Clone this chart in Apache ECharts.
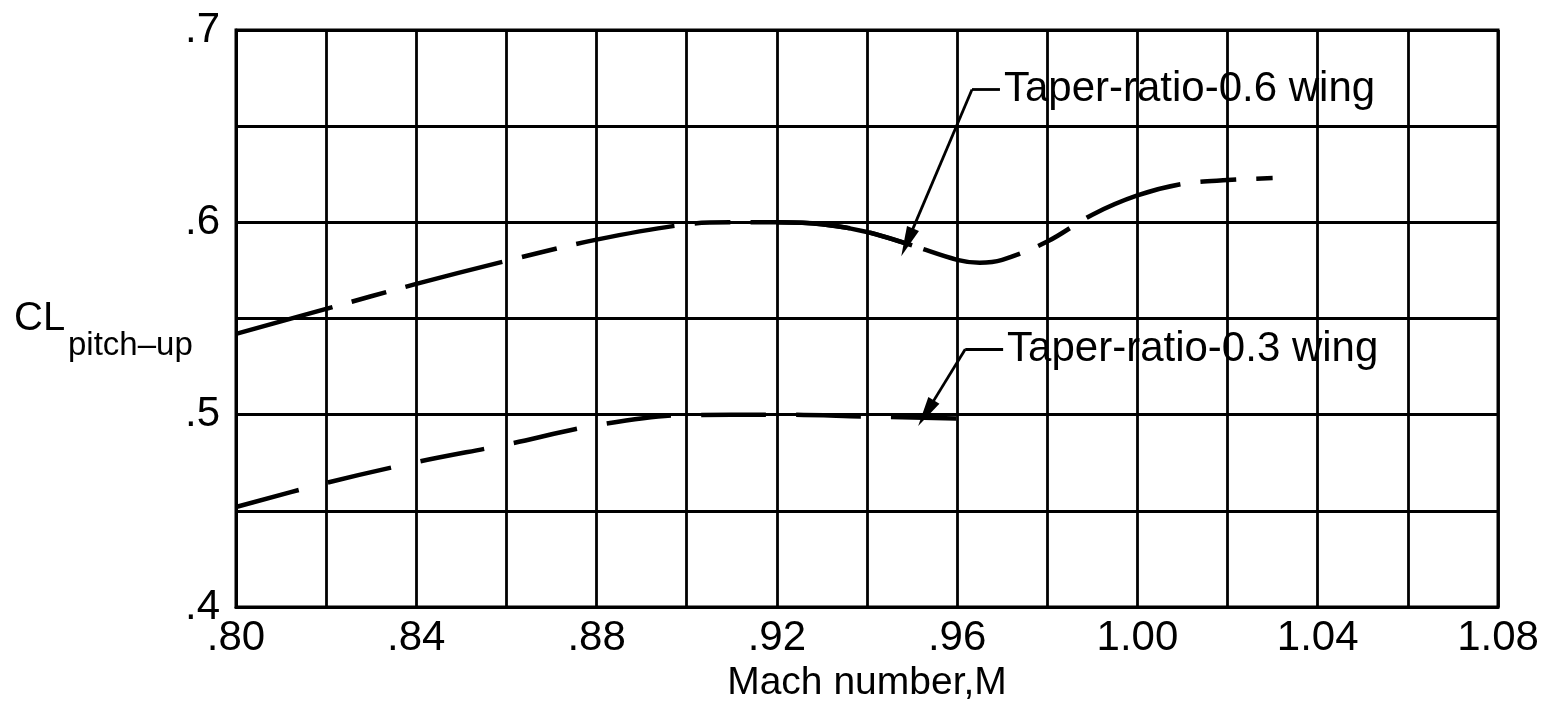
<!DOCTYPE html>
<html>
<head>
<meta charset="utf-8">
<script src="https://cdn.jsdelivr.net/npm/echarts@6/dist/echarts.min.js"></script>
<style>
html,body{margin:0;padding:0;background:#fff;}
#chart{width:1543px;height:709px;}
</style>
</head>
<body>
<div id="chart"></div>
<script>
// Mach number values and C_L pitch-up
const machUpper = [0.80, 0.82, 0.84, 0.86, 0.88, 0.90, 0.91, 0.92, 0.93, 0.94, 0.95, 0.96, 0.965, 0.97, 0.98, 0.99, 1.00, 1.01, 1.02, 1.03];
const clUpper   = [0.542, 0.555, 0.568, 0.580, 0.591, 0.599, 0.600, 0.600, 0.599, 0.595, 0.588, 0.5805, 0.579, 0.5805, 0.590, 0.604, 0.614, 0.620, 0.622, 0.623];
const machLower = [0.80, 0.82, 0.84, 0.86, 0.88, 0.90, 0.92, 0.94, 0.96];
const clLower   = [0.452, 0.4645, 0.4753, 0.4845, 0.4945, 0.4998, 0.500, 0.499, 0.498];
const upperSolidRange = [0.92, 0.955];
const xTickValues = [0.80, 0.84, 0.88, 0.92, 0.96, 1.00, 1.04, 1.08];
const xTickLabels = ['.80', '.84', '.88', '.92', '.96', '1.00', '1.04', '1.08'];
const yTickValues = [0.4, 0.5, 0.6, 0.7];
const yTickLabels = ['.4', '.5', '.6', '.7'];
const labelUpper = 'Taper-ratio-0.6 wing';
const labelLower = 'Taper-ratio-0.3 wing';
const xName = 'Mach number,M';
const yNameMain = 'CL';
const yNameSub = 'pitch–up';

const FONT = '"Liberation Sans", Arial, sans-serif';
const pair = (xs, ys) => xs.map((x, i) => [x, ys[i]]);
const upperData = pair(machUpper, clUpper);
const lowerData = pair(machLower, clLower);
const upperSolid = upperData.filter(p => p[0] >= upperSolidRange[0] && p[0] <= upperSolidRange[1]);

function tickFmt(values, labels) {
  return function (v) {
    for (let i = 0; i < values.length; i++) {
      if (Math.abs(v - values[i]) < 1e-6) return labels[i];
    }
    return '';
  };
}

const annLabel = (text) => ({
  show: true, position: 'end', formatter: text, distance: 4,
  fontSize: 42, color: '#000', fontFamily: FONT
});
const noLabel = { show: false };

const chart = echarts.init(document.getElementById('chart'), null, { renderer: 'canvas' });
chart.setOption({
  animation: false,
  backgroundColor: '#fff',
  title: [
    { text: yNameMain, left: 14, top: 299, padding: 0,
      textStyle: { fontSize: 40, fontWeight: 'normal', color: '#000', fontFamily: FONT } },
    { text: yNameSub, left: 68, top: 329, padding: 0,
      textStyle: { fontSize: 33, fontWeight: 'normal', color: '#000', fontFamily: FONT } }
  ],
  grid: { left: 236, right: 45, top: 30, bottom: 102, show: true, borderColor: '#000', borderWidth: 3, backgroundColor: 'transparent' },
  xAxis: {
    type: 'value', min: 0.80, max: 1.08, interval: 0.02,
    name: xName, nameLocation: 'middle', nameGap: 50,
    nameTextStyle: { fontSize: 39, color: '#000', fontFamily: FONT },
    axisLine: { show: true, lineStyle: { color: '#000', width: 3 } },
    axisTick: { show: false },
    splitLine: { show: true, lineStyle: { color: '#000', width: 2.8 } },
    axisLabel: { formatter: tickFmt(xTickValues, xTickLabels), fontSize: 42, color: '#000', fontFamily: FONT, margin: 10, showMinLabel: true, showMaxLabel: true }
  },
  yAxis: {
    type: 'value', min: 0.40, max: 0.70, interval: 0.05,
    axisLine: { show: true, lineStyle: { color: '#000', width: 3 } },
    axisTick: { show: false },
    splitLine: { show: true, lineStyle: { color: '#000', width: 2.8 } },
    axisLabel: { formatter: tickFmt(yTickValues, yTickLabels), fontSize: 42, color: '#000', fontFamily: FONT, margin: 16 }
  },
  series: [
    {
      type: 'line', data: upperData, smooth: 0.35, symbol: 'none',
      lineStyle: { color: '#000', width: 4.5, type: [100, 20, 36, 20] },
      markLine: {
        silent: true, animation: false,
        lineStyle: { color: '#000', width: 2.8, type: 'solid' },
        data: [
          [ { coord: [0.9633, 0.6691], symbol: 'none', label: annLabel(labelUpper) },
            { coord: [0.9695, 0.6691], symbol: 'none', label: annLabel(labelUpper) } ],
          [ { coord: [0.9633, 0.6691], symbol: 'none', label: noLabel },
            { coord: [0.9489, 0.5896], symbol: 'triangle', symbolSize: [13, 30], label: noLabel } ]
        ]
      }
    },
    {
      type: 'line', data: upperSolid, smooth: 0.35, symbol: 'none',
      lineStyle: { color: '#000', width: 4.5, type: 'solid' }
    },
    {
      type: 'line', data: lowerData, smooth: 0.35, symbol: 'none',
      lineStyle: { color: '#000', width: 4.5, type: [65, 30] },
      markLine: {
        silent: true, animation: false,
        lineStyle: { color: '#000', width: 2.8, type: 'solid' },
        data: [
          [ { coord: [0.9618, 0.534], symbol: 'none', label: annLabel(labelLower) },
            { coord: [0.9702, 0.534], symbol: 'none', label: annLabel(labelLower) } ],
          [ { coord: [0.9618, 0.534], symbol: 'none', label: noLabel },
            { coord: [0.9531, 0.5008], symbol: 'triangle', symbolSize: [13, 30], label: noLabel } ]
        ]
      }
    }
  ]
});
</script>
</body>
</html>
